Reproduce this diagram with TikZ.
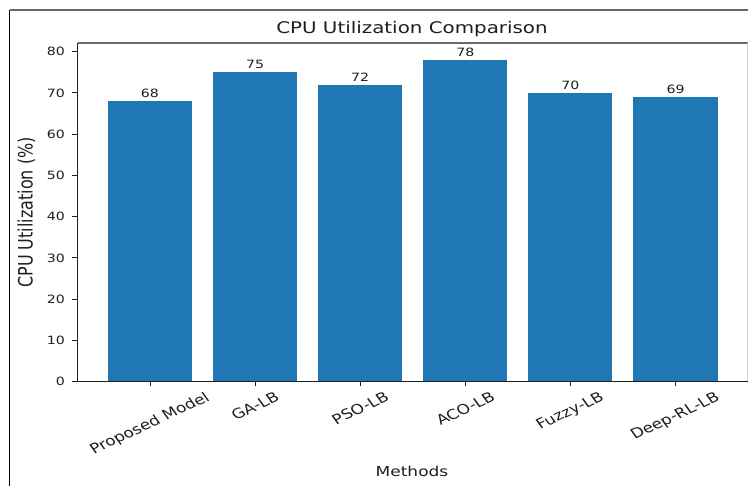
\documentclass[tikz,border=0pt]{standalone}
\usepackage{fontspec}
\setmainfont{DejaVu Sans}
\usepackage{graphicx}
\definecolor{barblue}{HTML}{1F77B4}
\definecolor{framegray}{RGB}{105,105,105}
\definecolor{inkgray}{RGB}{30,30,30}
% glyphs are drawn a little wider than tall
\newcommand{\wide}[1]{\scalebox{1.241}[1]{#1}}
\begin{document}
\begin{tikzpicture}[x=1pt,y=1pt,
  ticklabel/.style={font=\fontsize{11.4}{13}\selectfont, inner sep=0pt, text=inkgray},
  catlabel/.style={font=\fontsize{13.7}{15}\selectfont, inner sep=0pt, text=inkgray},
  vallabel/.style={font=\fontsize{11.4}{13}\selectfont, inner sep=0pt, text=inkgray},
  axislabel/.style={font=\fontsize{13.7}{15}\selectfont, inner sep=0pt, text=inkgray},
  ylabelstyle/.style={font=\fontsize{16}{18}\selectfont, inner sep=0pt, text=inkgray},
  titlestyle/.style={font=\fontsize{16}{18}\selectfont, inner sep=0pt, text=inkgray},
  tickmark/.style={draw=inkgray, line width=0.9pt},
  spine/.style={draw=inkgray, line width=1.1pt},
  frameline/.style={draw=framegray, line width=1.5pt}]
\useasboundingbox (0,0) rectangle (748,486);

% outer frame
\draw[frameline] (9.5,476) -- (748,476);
\draw[draw=black, line width=1.2pt] (9.5,476) -- (9.5,0);

% bars and their value labels
\foreach \v [count=\i from 0] in {68,75,72,78,70,69} {
  \pgfmathsetmacro\cx{150+105.1*\i}
  \pgfmathsetmacro\bt{104.3+4.125*\v}
  \fill[barblue] (\cx-42.04,104.3) rectangle (\cx+42.04,\bt);
  \node[vallabel, anchor=base] (val\i) at (\cx,\bt+3.5) {\wide{\v}};
}

% axes frame
\draw[frameline] (77.5,443) -- (748,443);
\draw[draw=gray!35, line width=0.8pt] (747,443) -- (747,104.3);
\draw[spine] (77.5,443) -- (77.5,104.3);
\draw[spine] (77.5,104.3) -- (748,104.3);

% y ticks
\foreach \v in {0,10,...,80} {
  \pgfmathsetmacro\ty{104.3+4.125*\v}
  \draw[tickmark] (71.5,\ty) -- (77.5,\ty);
  \node[ticklabel, anchor=east] (yt\v) at (65,\ty) {\wide{\v}};
}

% x ticks with slanted category labels
\foreach \name [count=\i from 0] in {Proposed Model,GA-LB,PSO-LB,ACO-LB,Fuzzy-LB,Deep-RL-LB} {
  \pgfmathsetmacro\cx{150+105.1*\i}
  \draw[tickmark] (\cx,104.3) -- (\cx,100);
  \node[catlabel, anchor=north] (xt\i) at (\cx,95) {\wide{\rotatebox{30}{\name}}};
}

% axis labels and title
\node[axislabel, anchor=base] (xlab) at (412,9.3) {\wide{Methods}};
\node[ylabelstyle, anchor=center] (ylab) at (26.5,273.5) {\wide{\rotatebox{90}{CPU Utilization (\%)}}};
\node[titlestyle, anchor=base] (title) at (412,452.7) {\wide{CPU Utilization Comparison}};
\end{tikzpicture}
\end{document}
